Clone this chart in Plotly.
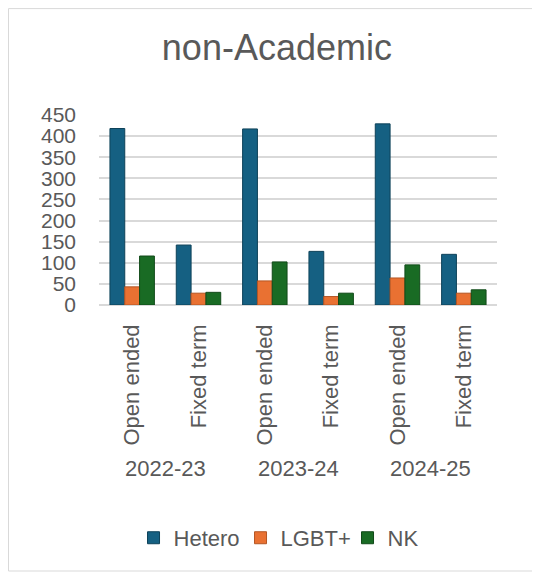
import plotly.graph_objects as go

years = ["2022-23", "2023-24", "2024-25"]
contract_types = ["Open ended", "Fixed term"]
categories = ["Open ended", "Fixed term", "Open ended", "Fixed term", "Open ended", "Fixed term"]
hetero = [418, 142, 417, 127, 429, 120]
lgbt = [43, 28, 57, 20, 64, 28]
nk = [116, 30, 102, 28, 95, 36]
y_ticks = [0, 50, 100, 150, 200, 250, 300, 350, 400, 450]

FONT = "Liberation Sans"
GRAY = "#595959"
xs = list(range(len(categories)))

fig = go.Figure()
series = [("Hetero", hetero, "#156082", "#0e4259"),
          ("LGBT+", lgbt, "#E97132", "#b45624"),
          ("NK", nk, "#196B24", "#114a19")]
for name, vals, col, edge in series:
    fig.add_trace(go.Bar(x=xs, y=vals, name=name,
                         marker=dict(color=col, line=dict(color=edge, width=1))))

for i, yr in enumerate(years):
    fig.add_annotation(x=i * 2 + 0.5, y=-0.937, xref="x", yref="paper",
                       text=yr, showarrow=False,
                       font=dict(family=FONT, size=22, color=GRAY))

fig.add_shape(type="rect", xref="paper", yref="paper",
              x0=-0.2274, x1=1.10, y0=-1.40, y1=1.56,
              line=dict(color="#d9d9d9", width=1), layer="below")

fig.update_layout(
    width=540, height=574,
    margin=dict(l=91, r=51, t=107, b=277, autoexpand=False),
    paper_bgcolor="white", plot_bgcolor="white",
    barmode="group", bargap=0.33, bargroupgap=0,
    title=dict(text="non-Academic", x=0.498, xref="container", xanchor="center",
               y=1 - 39 / 574, yref="container", yanchor="middle",
               font=dict(family=FONT, size=36, color=GRAY)),
    font=dict(family=FONT, size=22, color=GRAY),
    showlegend=True,
    legend=dict(orientation="h", x=0.49, xanchor="center", y=-1.226, yanchor="middle",
                font=dict(family=FONT, size=22, color=GRAY), itemwidth=30,
                entrywidth=62, entrywidthmode="pixels",
                traceorder="normal"),
    xaxis=dict(tickmode="array", tickvals=xs, ticktext=categories,
               tickangle=-90, showgrid=False, showline=False, ticks="",
               range=[-0.5, len(xs) - 0.5], ticklabelstandoff=14, automargin=False,
               tickfont=dict(family=FONT, size=22, color=GRAY)),
    yaxis=dict(range=[0, 450], tickmode="array", tickvals=y_ticks,
               showgrid=True, gridcolor="#d9d9d9", gridwidth=2,
               zeroline=True, zerolinecolor="#d9d9d9", zerolinewidth=2,
               showline=False, ticks="", ticklabelstandoff=22, automargin=False,
               tickfont=dict(family=FONT, size=21, color=GRAY)),
)

fig.write_html("out.html")
